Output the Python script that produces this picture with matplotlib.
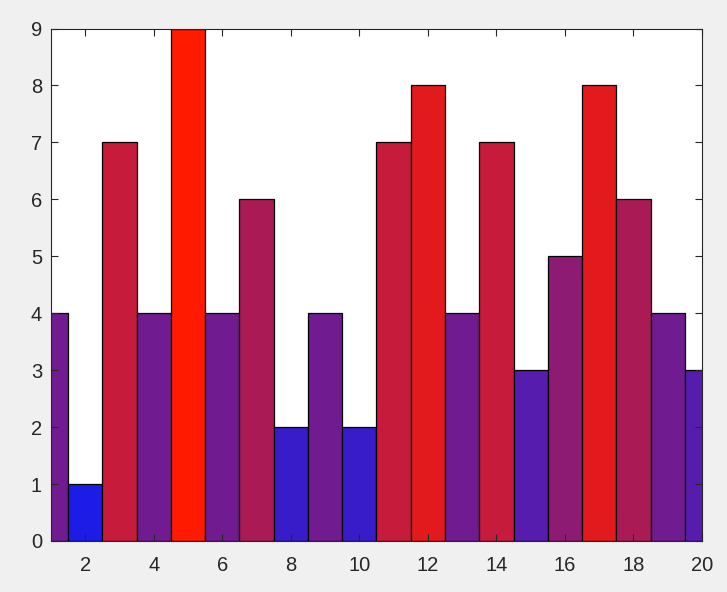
import matplotlib
matplotlib.use("Agg")
import matplotlib.pyplot as plt
import numpy as np

x = list(range(1, 21))
values = [4, 1, 7, 4, 9, 4, 6, 2, 4, 2, 7, 8, 4, 7, 3, 5, 8, 6, 4, 3]
xticks = [2, 4, 6, 8, 10, 12, 14, 16, 18, 20]
yticks = list(range(0, 10))

blue = np.array([28, 28, 230]) / 255
red = np.array([255, 26, 0]) / 255
vmin, vmax = 1, 9
colors = [tuple((1 - (v - vmin) / (vmax - vmin)) * blue + ((v - vmin) / (vmax - vmin)) * red) for v in values]

plt.rcParams['font.family'] = ['Liberation Sans', 'DejaVu Sans']
fig = plt.figure(figsize=(7.27, 5.92), dpi=100, facecolor='#f0f0f0')
ax = fig.add_axes([51/727, 1 - 541/592, (702 - 51)/727, (541 - 28.5)/592])
ax.bar(x, values, width=1.0, color=colors, edgecolor='black', linewidth=0.9)
ax.set_xlim(1, 20)
ax.set_ylim(0, 9)
ax.set_xticks(xticks)
ax.set_yticks(yticks)
ax.tick_params(direction='in', top=True, right=True, length=5, width=0.8,
               colors='#262626', labelsize=14.5)
ax.tick_params(axis='x', pad=10.5)
ax.tick_params(axis='y', pad=6.5)
for s in ax.spines.values():
    s.set_color('#262626')
    s.set_linewidth(0.8)
    s.set_zorder(5)
fig.savefig('out.png', dpi=100, facecolor=fig.get_facecolor())
